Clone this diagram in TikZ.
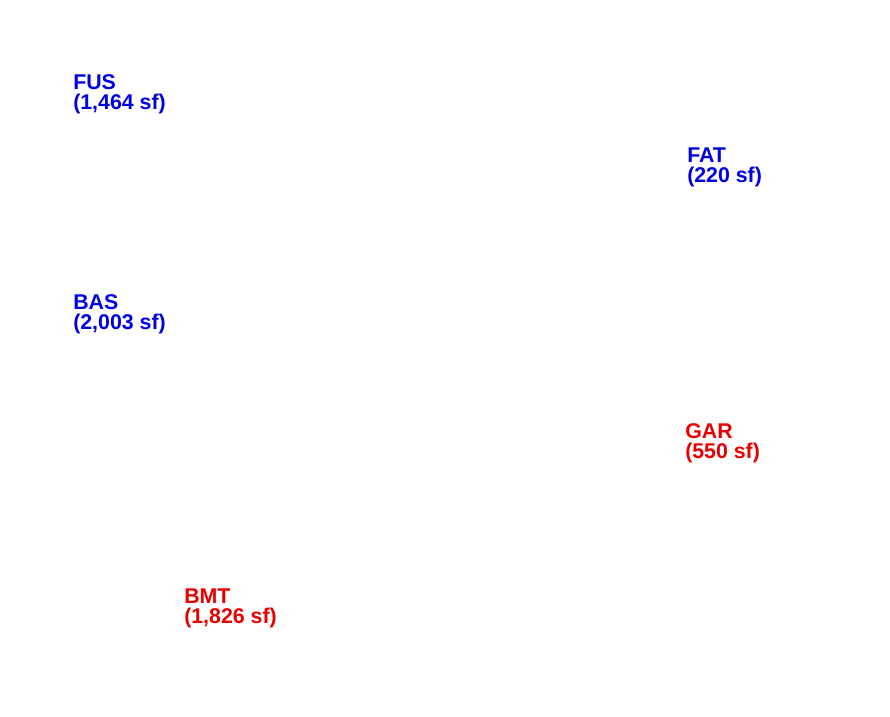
\documentclass[tikz,border=0pt]{standalone}
\usepackage{fontspec}
\setmainfont{Liberation Sans}
\usetikzlibrary{positioning}
\definecolor{roomblu}{RGB}{0,0,225}
\definecolor{roomred}{RGB}{230,0,0}
\tikzset{
  roomlbl/.style={anchor=north west, inner sep=0pt, align=left,
    font=\fontsize{16pt}{15pt}\selectfont\bfseries},
  bluelbl/.style={roomlbl, text=roomblu},
  redlbl/.style={roomlbl, text=roomred}
}
\begin{document}
\begin{tikzpicture}[x=0.75pt, y=-0.75pt]
        \useasboundingbox (0,0) rectangle (890,717);
        % finished areas
        \node[bluelbl] (fus) at (73,74) {FUS\\(1,464 sf)};
        \node[bluelbl] (fat) at (687,148) {FAT\\(220 sf)};
        \node[bluelbl] (bas) at (73,294) {BAS\\(2,003 sf)};
        % unfinished areas
        \node[redlbl] (gar) at (685,423) {GAR\\(550 sf)};
        \node[redlbl] (bmt) at (184,589) {BMT\\(1,826 sf)};
      \end{tikzpicture}
\end{document}
